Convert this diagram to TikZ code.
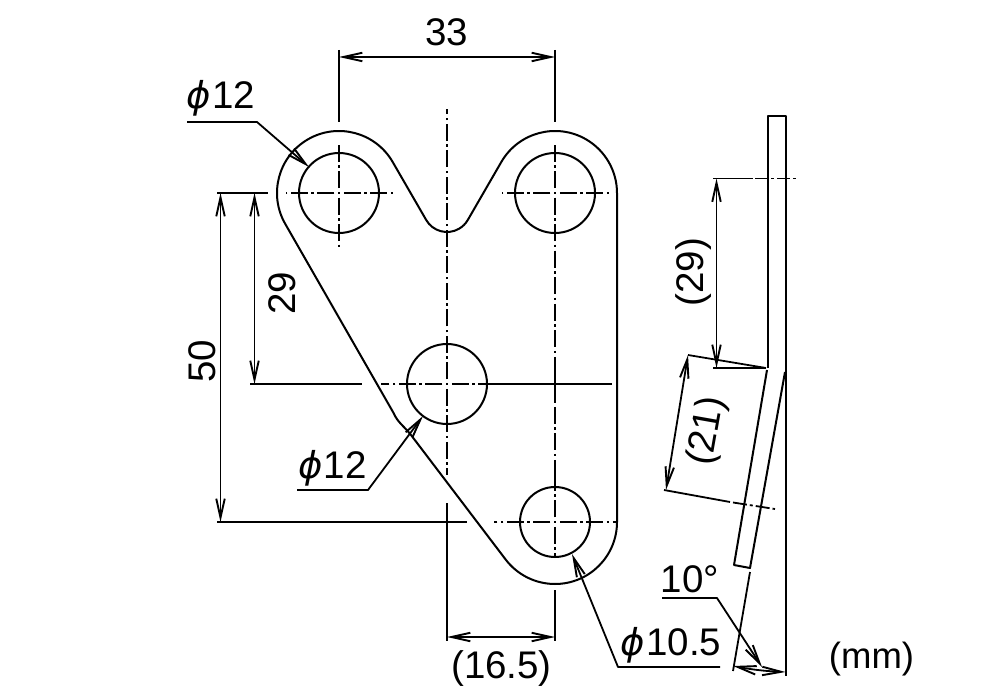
\documentclass[tikz,border=0pt]{standalone}
\usepackage{fontspec}
\setmainfont{Liberation Sans}
\newfontfamily\phifont{DejaVu Sans}
\usetikzlibrary{arrows.meta}
\newcommand{\phisym}{{\phifont\itshape\fontsize{37}{37}\selectfont ϕ}\kern1pt}
\tikzset{
  part/.style={line width=2pt,line join=round},
  dimline/.style={line width=1.8pt},
  barb/.tip={Straight Barb[length=19pt,width=8.5pt,line width=1.9pt]},
  dimarrow/.style={line width=1.8pt,{barb}-{barb}},
  leader/.style={line width=1.8pt,line join=round,-{barb}},
  cl/.style={line width=1.9pt,dash pattern=on 17pt off 3.5pt on 2.5pt off 3.5pt,dash phase=21.75pt},
  lbl/.style={inner sep=0pt,anchor=base,font=\fontsize{38.5}{38.5}\selectfont},
}
\begin{document}
\begin{tikzpicture}[x=1pt,y=-1pt]
\useasboundingbox[fill=white] (0,0) rectangle (1000,700);
% hole centres
\coordinate (h1) at (339,193);
\coordinate (h2) at (555,193);
\coordinate (h3) at (447,384);
\coordinate (h4) at (555,522);
% outline
\draw[part] (285.3,224) arc[start angle=150,end angle=330,radius=62]
  -- (426.2,220) arc[start angle=150,end angle=30,radius=24]
  -- (501.3,162) arc[start angle=210,end angle=360,radius=62]
  -- (617,522) arc[start angle=0,end angle=142.8,radius=62]
  -- (411,435) .. controls (403,425) and (398,423) .. (393,412) -- cycle;
% holes
\draw[part] (h1) circle[radius=40];
\draw[part] (h2) circle[radius=40];
\draw[part] (h3) circle[radius=40];
\draw[part] (h4) circle[radius=35];
% centre lines
\draw[cl] (h1) -- (339,142);
\draw[cl] (h1) -- (339,247);
\draw[cl] (h1) -- (286,193);
\draw[cl] (h1) -- (393,193);
\draw[cl] (h2) -- (555,142);
\draw[cl] (h2) -- (555,370);
\draw[cl] (h2) -- (502,193);
\draw[cl] (h2) -- (609,193);
\draw[dimline] (555,370) -- (555,402);
\draw[cl] (h3) -- (447,109);
\draw[cl] (h3) -- (447,475);
\draw[cl] (h3) -- (381,384);
\draw[cl] (h3) -- (487,384);
\draw[dimline] (487,384) -- (612,384);
\draw[cl] (555,402) -- (555,472);
\draw[dimline] (555,468) -- (555,488);
\draw[cl] (h4) -- (555,488);
\draw[cl] (h4) -- (555,557);
\draw[cl] (h4) -- (494,522);
\draw[cl] (h4) -- (618,522);
% extension lines
\draw[dimline] (339,50) -- (339,122);
\draw[dimline] (555,50) -- (555,122);
\draw[dimline] (217,193) -- (268,193);
\draw[dimline] (250,384) -- (362,384);
\draw[dimline] (217,522) -- (467,522);
\draw[dimline] (447,503) -- (447,641);
\draw[dimline] (555,590) -- (555,641);
% dimensions
\coordinate (d33a) at (339,57); \coordinate (d33b) at (555,57);
\draw[dimarrow] (d33a) -- (d33b);
\node[lbl] (t33) at (446.5,46) {33};
\coordinate (d50a) at (220.5,193); \coordinate (d50b) at (220.5,522);
\draw[dimarrow] (d50a) -- (d50b);
\node[lbl,rotate=90] (t50) at (215,361) {50};
\coordinate (d29a) at (254.5,193); \coordinate (d29b) at (254.5,384);
\draw[dimarrow] (d29a) -- (d29b);
\node[lbl,rotate=90] (t29) at (295,293) {29};
\coordinate (d165a) at (447,637); \coordinate (d165b) at (555,637);
\draw[dimarrow] (d165a) -- (d165b);
\node[lbl] (t165) at (501.5,678) {(16.5)};
% leaders
\coordinate (l1a) at (187,122); \coordinate (l1b) at (257,122); \coordinate (l1c) at (309,167);
\draw[leader] (l1a) -- (l1b) -- (l1c);
\node[lbl] (tphi1) at (221,109) {\phisym 12};
\coordinate (l2a) at (297,490); \coordinate (l2b) at (368,490); \coordinate (l2c) at (423,416);
\draw[leader] (l2a) -- (l2b) -- (l2c);
\node[lbl] (tphi2) at (332.5,478) {\phisym 12};
\coordinate (l3a) at (720,667); \coordinate (l3b) at (618,667); \coordinate (l3c) at (572,554);
\draw[leader] (l3a) -- (l3b) -- (l3c);
\node[lbl] (tphi3) at (671,655) {\phisym 10.5};
\coordinate (l4a) at (662,598); \coordinate (l4b) at (717,598); \coordinate (l4c) at (762,667);
\draw[leader] (l4a) -- (l4b) -- (l4c);
\node[lbl] (t10) at (690,592) {10°};
% side view
\draw[part] (768,368) -- (768,116) -- (785.7,116) -- (785.7,676);
\draw[part] (767,370) -- (734,565) -- (750,568) -- (785,372);
\draw[dimline] (750,572) -- (733,671);
% side view dimensions
\draw[dimline] (713,178.5) -- (753,178.5);
\draw[dimline,dash pattern=on 13pt off 3pt on 3pt off 3pt] (755,178.5) -- (799,178.5);
\draw[dimline] (713,368) -- (766,368);
\draw[dimline] (688,355) -- (766,368);
\coordinate (s29a) at (716.5,178.5); \coordinate (s29b) at (716.5,368);
\draw[dimarrow] (s29a) -- (s29b);
\node[lbl,rotate=90] (ts29) at (703,272) {(29)};
\coordinate (s21a) at (688,355); \coordinate (s21b) at (666,490);
\draw[dimarrow] (s21a) -- (s21b);
\node[lbl,rotate=80] (ts21) at (717.5,433) {(21)};
\draw[dimline] (664,490) -- (730,502);
\draw[dimline,dash pattern=on 14pt off 3pt on 3pt off 3pt] (733,502.5) -- (775,509);
\coordinate (a10a) at (733,666); \coordinate (a10b) at (785.5,672);
\draw[dimarrow] (a10a) to[bend right=4] (a10b);
\node[lbl,font=\fontsize{36.5}{36.5}\selectfont] (tmm) at (871.5,668) {(mm)};
\end{tikzpicture}
\end{document}
